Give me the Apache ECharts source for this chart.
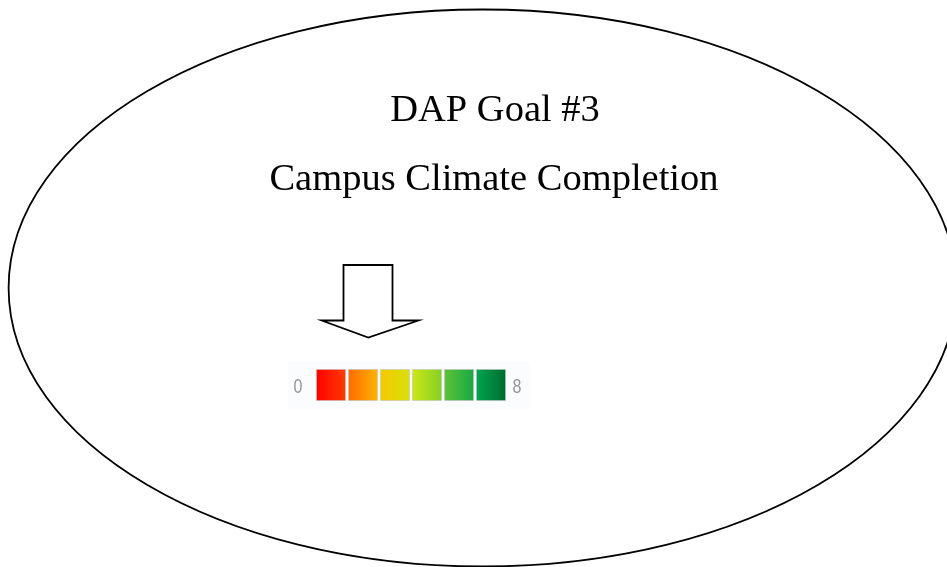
<!DOCTYPE html>
<html>
<head>
<meta charset="utf-8">
<script src="https://cdn.jsdelivr.net/npm/echarts@6/dist/echarts.min.js"></script>
<style>
html,body{margin:0;padding:0;background:#fff;}
#chart{width:947px;height:567px;}
</style>
</head>
<body>
<div id="chart"></div>
<script>
const titleLines = ['DAP Goal #3', 'Campus Climate Completion'];
const segments = ['s1', 's2', 's3', 's4', 's5', 's6'];
const segmentValues = [1, 1, 1, 1, 1, 1];
const gradStart = ['#ff0000', '#ff6a00', '#f7c800', '#cde813', '#5ec236', '#00a651'];
const gradEnd = ['#ff3c00', '#ffb400', '#d6e00a', '#84cf27', '#17a945', '#006b30'];
const scaleLabels = ['0', '8'];

const chart = echarts.init(document.getElementById('chart'));

const barData = segmentValues.map((v, i) => ({
  value: v,
  itemStyle: {
    color: new echarts.graphic.LinearGradient(0, 0, 1, 0, [
      { offset: 0, color: gradStart[i] },
      { offset: 1, color: gradEnd[i] }
    ]),
    borderColor: 'rgba(190,190,190,0.5)',
    borderWidth: 1
  }
}));

chart.setOption({
  animation: false,
  backgroundColor: '#ffffff',
  grid: { left: 315, top: 369, width: 192, height: 32 },
  xAxis: { type: 'category', data: segments, show: false },
  yAxis: { type: 'value', min: 0, max: 1, show: false },
  series: [{
    type: 'bar',
    data: barData,
    barWidth: 30,
    silent: true
  }],
  graphic: [
    {
      type: 'rect', z: -1,
      shape: { x: 288, y: 362, width: 242, height: 47 },
      style: { fill: '#fbfcfe' }
    },
    {
      type: 'ellipse',
      shape: { cx: 482.6, cy: 288, rx: 474, ry: 278.5 },
      style: { fill: 'none', stroke: '#000', lineWidth: 1.8 }
    },
    {
      type: 'polygon',
      shape: { points: [[343.5, 265], [392.5, 265], [392.5, 320.5], [418.5, 320.5], [368.3, 337.5], [321.7, 320.5], [343.5, 320.5]] },
      style: { fill: '#fff', stroke: '#000', lineWidth: 1.8 }
    },
    {
      type: 'text', x: 495, y: 111,
      style: { text: titleLines[0], font: '38.5px "Liberation Serif", serif', fill: '#000', align: 'center', verticalAlign: 'middle' }
    },
    {
      type: 'text', x: 494, y: 180,
      style: { text: titleLines[1], font: '38.5px "Liberation Serif", serif', fill: '#000', align: 'center', verticalAlign: 'middle' }
    },
    {
      type: 'text', x: 298, y: 387, scaleX: 0.8,
      style: { text: scaleLabels[0], font: '20px "Liberation Sans", sans-serif', fill: '#969696', align: 'center', verticalAlign: 'middle' }
    },
    {
      type: 'text', x: 517, y: 387, scaleX: 0.8,
      style: { text: scaleLabels[1], font: '20px "Liberation Sans", sans-serif', fill: '#969696', align: 'center', verticalAlign: 'middle' }
    }
  ]
});
</script>
</body>
</html>
